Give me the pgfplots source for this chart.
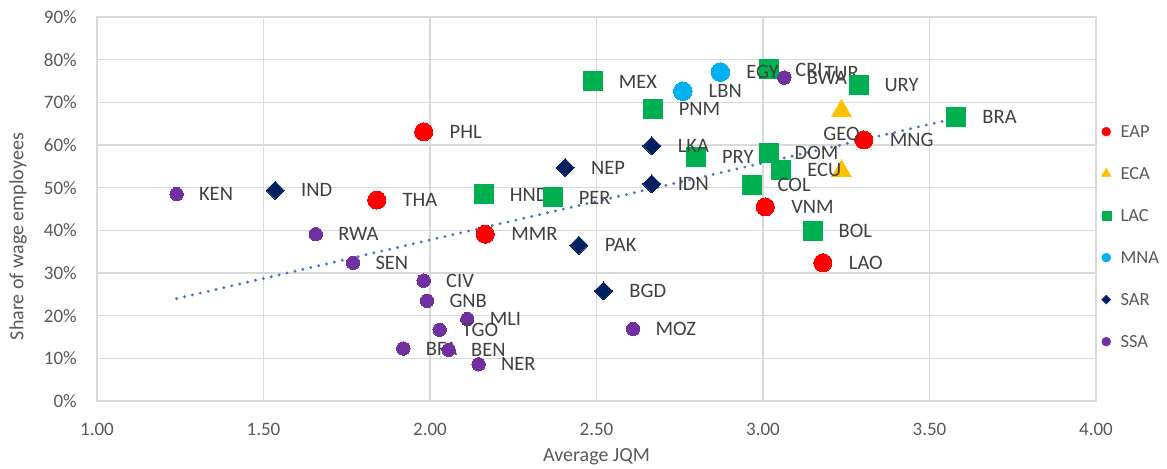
\documentclass[border=0pt]{standalone}
\usepackage{pgfplots}
\usepackage{pgfplotstable}
\usepackage{fontspec}
\setmainfont{Carlito}
\pgfplotsset{compat=1.18}
\definecolor{eap}{HTML}{FF0000}
\definecolor{eca}{HTML}{FFC000}
\definecolor{lac}{HTML}{00B050}
\definecolor{mna}{HTML}{00B0F0}
\definecolor{sar}{HTML}{002060}
\definecolor{ssa}{HTML}{7030A0}
\definecolor{trend}{HTML}{4472C4}
\definecolor{gridgray}{HTML}{D9D9D9}
\definecolor{txt}{HTML}{595959}
\definecolor{lbl}{HTML}{404040}

\pgfplotstableread{
x y label
1.981 63.1 PHL
1.840 47.1 THA
2.166 39.1 MMR
3.007 45.5 VNM
3.180 32.4 LAO
3.303 61.2 MNG
}\eap
\pgfplotstableread{
x y label
3.236 68.1 TUR
3.236 53.9 GEO
}\eca
\pgfplotstableread{
x y label
2.489 74.9 MEX
3.019 77.7 CRI
3.287 74.0 URY
2.669 68.4 PNM
2.799 57.1 PRY
3.017 58.2 DOM
3.055 54.1 ECU
2.966 50.6 COL
3.581 66.5 BRA
3.149 39.8 BOL
2.162 48.4 HND
2.369 47.7 PER
}\lac
\pgfplotstableread{
x y label
2.759 72.6 LBN
2.872 77.1 EGY
}\mna
\pgfplotstableread{
x y label
1.535 49.4 IND
2.406 54.7 NEP
2.666 59.8 LKA
2.666 50.9 IDN
2.447 36.5 PAK
2.521 25.8 BGD
}\sar
\pgfplotstableread{
x y label
1.239 48.5 KEN
1.657 39.1 RWA
1.769 32.4 SEN
1.981 28.2 CIV
1.991 23.5 GNB
2.112 19.2 MLI
2.029 16.7 TGO
1.920 12.3 BFA
2.056 12.0 BEN
2.146 8.6 NER
2.610 16.9 MOZ
3.064 75.8 BWA
}\ssa

\begin{document}
\begin{tikzpicture}
\useasboundingbox (-97bp,-68bp) rectangle (1070bp,401bp);
\begin{axis}[
  scale only axis,
  width=999bp, height=384bp,
  xmin=1, xmax=4, ymin=0, ymax=90,
  xtick={1,1.5,2,2.5,3,3.5,4},
  ytick={0,10,20,30,40,50,60,70,80,90},
  /pgf/number format/assume math mode=true,
  xticklabel={\pgfmathprintnumber[fixed,fixed zerofill,precision=2]{\tick}},
  yticklabel={\pgfmathprintnumber{\tick}\%},
  major tick length=0pt,
  grid=major,
  major grid style={color=gridgray, line width=1.2bp},
  axis line style={color=gridgray, line width=1.2bp},
  tick label style={font=\fontsize{19bp}{22bp}\selectfont, text=txt, inner sep=0pt},
  xticklabel style={anchor=north, yshift=-22bp},
  yticklabel style={anchor=east, xshift=-20bp},
  xlabel={Average JQM},
  ylabel={Share of wage employees},
  label style={font=\fontsize{20bp}{24bp}\selectfont, text=txt, inner sep=0pt},
  xlabel style={at={(axis description cs:0.5,0)}, anchor=base, yshift=-60bp},
  ylabel style={at={(axis description cs:-0.0738,0.428)}, anchor=base},
  clip=false,
  point meta=explicit symbolic,
  nodes near coords,
  every node near coord/.append style={anchor=west, xshift=26bp, inner sep=0pt,
     font=\fontsize{20.5bp}{24bp}\selectfont, text=lbl},
  legend style={at={(axis description cs:1,0.428)}, anchor=west, xshift=5.5bp,
     draw=none, fill=none, inner sep=0pt, outer sep=0pt, row sep=30bp, column sep=9.5bp,
     nodes={inner sep=0pt, outer sep=0pt, text height=12bp, text depth=0pt},
     font=\fontsize{18.5bp}{22bp}\selectfont, text=txt},
  legend cell align=left,
  legend image code/.code={\draw[#1] plot coordinates {(0bp,0bp)};},
]
\addplot[forget plot, only marks, mark=*, mark size=9bp, color=eap, mark options={line width=0pt}] table[x=x,y=y,meta=label] {\eap};
\addplot[forget plot, only marks, mark=triangle*, mark size=11.2bp, color=eca, mark options={line width=0pt},
  every node near coord/.append style={anchor=center, xshift=-26bp, yshift=37.5bp}] table[x=x,y=y,meta=label] {\eca};
\addplot[forget plot, only marks, mark=square*, mark size=9.5bp, color=lac, mark options={line width=0pt}] table[x=x,y=y,meta=label] {\lac};
\addplot[forget plot, only marks, mark=*, mark size=9.3bp, color=mna, mark options={line width=0pt}] table[x=x,y=y,meta=label] {\mna};
\addplot[forget plot, only marks, mark=square*, mark size=6.36bp, color=sar, mark options={line width=0pt, rotate=45}] table[x=x,y=y,meta=label] {\sar};
\addplot[forget plot, only marks, mark=*, mark size=6.7bp, color=ssa, mark options={line width=0pt},
  every node near coord/.append style={xshift=-3.5bp}] table[x=x,y=y,meta=label] {\ssa};
\addplot[forget plot, color=trend, line width=3.2bp, dash pattern=on 0bp off 8.1bp, line cap=round, nodes near coords={}] coordinates {(1.239,24.0) (3.581,66.3)};
\addlegendimage{only marks, mark=*, mark size=4.5bp, color=eap}
\addlegendentry{EAP}
\addlegendimage{only marks, mark=triangle*, mark size=5.5bp, color=eca}
\addlegendentry{ECA}
\addlegendimage{only marks, mark=square*, mark size=4.5bp, color=lac}
\addlegendentry{LAC}
\addlegendimage{only marks, mark=*, mark size=4.5bp, color=mna}
\addlegendentry{MNA}
\addlegendimage{only marks, mark=square*, mark size=3.2bp, color=sar, mark options={rotate=45}}
\addlegendentry{SAR}
\addlegendimage{only marks, mark=*, mark size=4.5bp, color=ssa}
\addlegendentry{SSA}
\end{axis}
\end{tikzpicture}
\end{document}
